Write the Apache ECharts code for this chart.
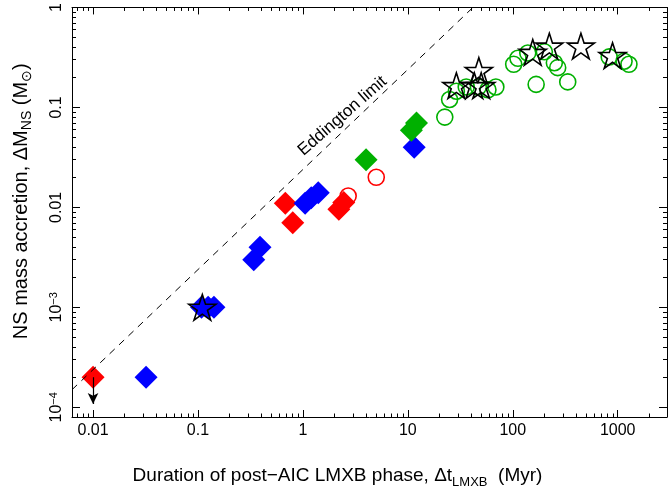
<!DOCTYPE html>
<html>
<head>
<meta charset="utf-8">
<script src="https://cdn.jsdelivr.net/npm/echarts@6/dist/echarts.min.js"></script>
<style>
  html, body { margin: 0; padding: 0; background: #fff; }
  #main { width: 669px; height: 497px; }
</style>
</head>
<body>
<div id="main"></div>
<script>
// ---- data: [duration (Myr), accreted mass (Msun)] ----
const redDiamonds = [[0.01, 2e-4], [0.68, 0.011], [0.80, 0.007], [2.2, 0.0096], [2.45, 0.0112]]
const blueDiamonds = [[0.032, 2e-4], [0.108, 0.001], [0.125, 0.001], [0.142, 0.001], [0.34, 0.003],
  [0.39, 0.004], [1.05, 0.011], [1.2, 0.0125], [1.4, 0.014], [11.5, 0.04]]
const greenDiamonds = [[4.0, 0.030], [10.8, 0.059], [12.1, 0.070]]
const redCircles = [[2.7, 0.013], [5.0, 0.02]]
const greenCircles = [[22.5, 0.08], [25, 0.12], [29, 0.145], [36, 0.16], [47, 0.16], [58, 0.15],
  [69, 0.16], [102, 0.27], [112, 0.31], [139, 0.35], [167, 0.17], [200, 0.36], [249, 0.28],
  [268, 0.25], [334, 0.18], [830, 0.32], [1150, 0.29], [1280, 0.27]]
const stars = [[0.11, 0.001], [29, 0.165], [43, 0.165], [50, 0.165], [47.5, 0.234],
  [155, 0.355], [223, 0.41], [446, 0.41], [893, 0.33]]
// upper limit arrow for the first system
const upperLimit = [[0.01, 2e-4], [0.01, 1.08e-4]]
// Eddington limit line
const eddington = [[0.0063, 1.5e-4], [41.7, 1.0]]

const xRange = [0.0063, 2950]
const yRange = [8e-5, 1]
const xTicks = [0.01, 0.1, 1, 10, 100, 1000]
const xTickLabels = ['0.01', '0.1', '1', '10', '100', '1000']
const yTicks = [1e-4, 1e-3, 0.01, 0.1, 1]
const yTickLabels = ['10{sup|\u22124}', '10{sup|\u22123}', '0.01', '0.1', '1']

const FONT = 'Liberation Sans'
const GREEN = '#00b000'
const STAR = 'path://M100,0 L122.45,69.1 L195.1,69.1 L136.3,111.8 L158.8,180.9 L100,138.2 L41.2,180.9 L63.7,111.8 L4.9,69.1 L77.55,69.1 Z'

// 2..9 x 10^k ticks inside a range
function minorTicks (range) {
  let out = []
  for (let k = -4; k <= 4; k++) {
    for (let m = 2; m <= 9; m++) {
      let v = m * Math.pow(10, k)
      if (v >= range[0] && v <= range[1]) out.push(v)
    }
  }
  return out
}

function labelFor (ticks, labels) {
  return function (v) {
    for (let i = 0; i < ticks.length; i++) {
      if (Math.abs(v / ticks[i] - 1) < 1e-6) return labels[i]
    }
    return ''
  }
}

function axis (pos, range, ticks, len, withLine, labels) {
  let a = {
    type: 'log',
    logBase: 10,
    position: pos,
    min: range[0],
    max: range[1],
    axisLine: { show: withLine, onZero: false, lineStyle: { color: '#000', width: 1 } },
    axisTick: { show: true, inside: true, length: len, customValues: ticks, lineStyle: { color: '#000', width: 1 } },
    axisLabel: { show: false },
    splitLine: { show: false },
    minorSplitLine: { show: false }
  }
  if (labels) {
    a.axisLabel = {
      show: true,
      customValues: ticks,
      color: '#000',
      fontSize: 16,
      fontFamily: FONT,
      formatter: labelFor(ticks, labels),
      rich: {
        sup: { fontSize: 11, fontFamily: FONT, color: '#000', verticalAlign: 'top', lineHeight: 11 }
      }
    }
  }
  return a
}

const xMinor = minorTicks(xRange)
const yMinor = minorTicks(yRange)

let bottom = axis('bottom', xRange, xTicks, 7, true, xTickLabels)
bottom.axisLabel.margin = 6
bottom.name = 'Duration of post\u2212AIC LMXB phase, \u0394t{sub|LMXB}  (Myr)'
bottom.nameLocation = 'middle'
bottom.nameGap = 46
bottom.nameTextStyle = {
  fontSize: 19, fontFamily: FONT, color: '#000', lineHeight: 26, padding: [0, 64, 0, 0],
  rich: { sub: { fontSize: 13, fontFamily: FONT, color: '#000', lineHeight: 13, verticalAlign: 'bottom' } }
}

let left = axis('left', yRange, yTicks, 8, true, yTickLabels)
left.axisLabel.rotate = 90
left.axisLabel.margin = 6
left.axisLabel.lineHeight = 18
left.name = 'NS mass accretion, \u0394M{sub|NS} (M{sub|\u2299})'
left.nameLocation = 'middle'
left.nameRotate = 90
left.nameGap = 38
left.nameTextStyle = {
  fontSize: 20, fontFamily: FONT, color: '#000', lineHeight: 26, padding: [0, 0, 0, 22],
  rich: { sub: { fontSize: 14, fontFamily: FONT, color: '#000', lineHeight: 14, verticalAlign: 'bottom' } }
}

let option = {
  animation: false,
  backgroundColor: '#fff',
  grid: { left: 69, right: 2, top: 5, bottom: 80, containLabel: false },
  xAxis: [
    bottom,
    axis('bottom', xRange, xMinor, 3.5, false),
    axis('top', xRange, xTicks, 7, true),
    axis('top', xRange, xMinor, 3.5, false)
  ],
  yAxis: [
    left,
    axis('left', yRange, yMinor, 4, false),
    axis('right', yRange, yTicks, 8, true),
    axis('right', yRange, yMinor, 4, false)
  ],
  series: [
    {
      // Eddington limit
      type: 'line',
      data: eddington,
      symbol: 'none',
      silent: true,
      lineStyle: { color: '#000', width: 1, type: [7, 6] }
    },
    {
      type: 'scatter',
      data: redDiamonds,
      symbol: 'diamond',
      symbolSize: 23,
      itemStyle: { color: '#ff0000', opacity: 1 },
      markLine: {
        silent: true,
        symbol: ['none', 'arrow'],
        symbolSize: [8, 11],
        label: { show: false },
        lineStyle: { color: '#000', width: 1.2, type: 'solid' },
        data: [[{ coord: upperLimit[0] }, { coord: upperLimit[1] }]]
      }
    },
    {
      type: 'scatter',
      data: blueDiamonds,
      symbol: 'diamond',
      symbolSize: 23,
      itemStyle: { color: '#0000ff', opacity: 1 }
    },
    {
      type: 'scatter',
      data: greenDiamonds,
      symbol: 'diamond',
      symbolSize: 23,
      itemStyle: { color: GREEN, opacity: 1 }
    },
    {
      type: 'scatter',
      data: redCircles,
      symbol: 'circle',
      symbolSize: 16,
      itemStyle: { color: 'none', borderColor: '#ff0000', borderWidth: 1.6, opacity: 1 }
    },
    {
      type: 'scatter',
      data: greenCircles,
      symbol: 'circle',
      symbolSize: 16,
      itemStyle: { color: 'none', borderColor: GREEN, borderWidth: 1.6, opacity: 1 }
    },
    {
      type: 'scatter',
      data: stars,
      symbol: STAR,
      symbolKeepAspect: true,
      symbolSize: 27,
      itemStyle: { color: 'none', borderColor: '#000', borderWidth: 1.6, opacity: 1 }
    }
  ]
}

let myChart = echarts.init(document.getElementById('main'))
myChart.setOption(option)

// label along the Eddington line
let p = myChart.convertToPixel({ xAxisIndex: 0, yAxisIndex: 0 }, [2.38, 0.082])
myChart.setOption({
  graphic: [{
    type: 'text',
    x: p[0],
    y: p[1],
    rotation: 41 * Math.PI / 180,
    silent: true,
    style: { text: 'Eddington limit', fontSize: 17, fontFamily: FONT, fill: '#000', align: 'center', verticalAlign: 'middle' }
  }]
})
</script>
</body>
</html>
